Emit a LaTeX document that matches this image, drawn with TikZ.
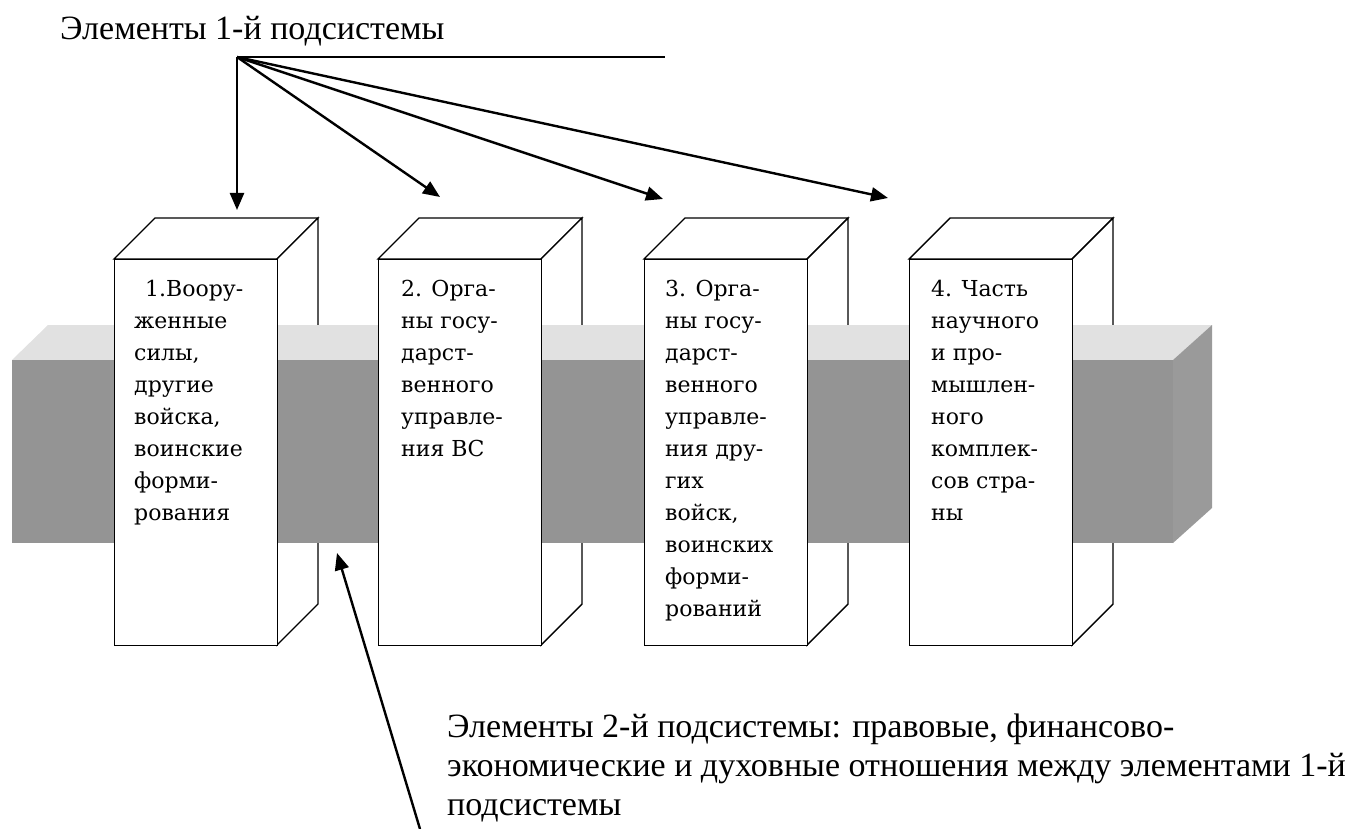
\documentclass[tikz,border=0pt]{standalone}
\usepackage{fontspec}
\setmainfont{Liberation Serif}
\newfontfamily\boxfont{DejaVu Serif}
\usetikzlibrary{arrows.meta}
\definecolor{bandfront}{HTML}{949494}
\definecolor{bandtop}{HTML}{E1E1E1}
\definecolor{bandside}{HTML}{9A9A9A}
\begin{document}
\begin{tikzpicture}[x=1pt,y=-1pt,
  face/.style={fill=white, draw=black, line width=1.4pt, line join=miter},
  frontface/.style={face, minimum width=163pt, minimum height=386pt, anchor=north west, inner sep=0pt},
  thinline/.style={line width=1.8pt},
  conn/.style={line width=2.4pt, -{Triangle[length=17pt,width=14pt]}},
  caption/.style={font=\fontsize{34}{39}\selectfont, inner sep=0pt, anchor=base west},
  blabel/.style={font=\boxfont\fontsize{22}{32}\selectfont, inner sep=0pt, anchor=base west}]
\useasboundingbox (0,0) rectangle (1354,829);

% rear parts of the four columns: top face and right side face
\foreach \x in {114,378,644,909}{
  \filldraw[face] (\x,259) -- ++(41,-41) -- ++(163,0) -- ++(-41,41) -- cycle;
  \filldraw[face] (\x+163,259) -- ++(41,-41) -- ++(0,386) -- ++(-41,41) -- cycle;
}

% horizontal bar passing through the columns
\fill[bandtop] (12,360) -- (48,325) -- (1212,325) -- (1173,360) -- cycle;
\fill[bandfront] (12,360) rectangle (1173,543);
\fill[bandside] (1173,360) -- (1212,325) -- (1212,508) -- (1173,543) -- cycle;

% front faces of the columns
\node[frontface] (b1) at (114,259) {};
\node[frontface] (b2) at (378,259) {};
\node[frontface] (b3) at (644,259) {};
\node[frontface] (b4) at (909,259) {};

\node[blabel] (t1) at (134,296) {\parbox[t]{150pt}{\raggedright
  \hspace*{11pt}1.Воору-\\женные\\силы,\\другие\\войска,\\воинские\\форми-\\рования}};
\node[blabel] (t2) at (401,296) {\parbox[t]{150pt}{\raggedright
  2. Орга-\\ны госу-\\дарст-\\венного\\управле-\\ния ВС}};
\node[blabel] (t3) at (665,296) {\parbox[t]{150pt}{\raggedright
  3. Орга-\\ны госу-\\дарст-\\венного\\управле-\\ния дру-\\гих\\войск,\\воинских\\форми-\\рований}};
\node[blabel] (t4) at (931,296) {\parbox[t]{150pt}{\raggedright
  4. Часть\\научного\\и про-\\мышлен-\\ного\\комплек-\\сов стра-\\ны}};

% captions
\node[caption] (title) at (60,40) {Элементы 1-й подсистемы};
\node[caption] (sub) at (447,737) {\parbox[t]{900pt}{\raggedright
  Элементы 2-й подсистемы: правовые, финансово-\\
  экономические и духовные отношения между элементами 1-й\\
  подсистемы}};

% connectors
\coordinate (src) at (237,57);
\coordinate (lineend) at (665,57);
\coordinate (tip1) at (237,210);
\coordinate (tip2) at (440,197);
\coordinate (tip3) at (663,199);
\coordinate (tip4) at (888,198);
\coordinate (tail) at (420,829);
\coordinate (tip5) at (337,553);

\draw[thinline] (src) -- (lineend);
\foreach \k in {1,2,3,4}{
  \draw[conn] (src) -- (tip\k);
}
\draw[conn] (tail) -- (tip5);
\end{tikzpicture}
\end{document}
